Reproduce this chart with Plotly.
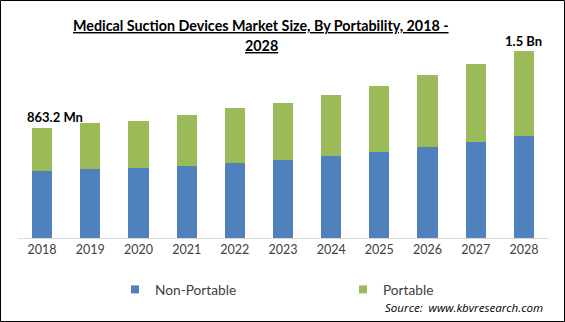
import plotly.graph_objects as go

years = ["2018", "2019", "2020", "2021", "2022", "2023", "2024", "2025", "2026", "2027", "2028"]
non_portable = [526, 541, 549, 565, 589, 612, 644, 675, 714, 754, 801]
portable = [337.2, 361, 369, 400, 432, 451, 479, 518, 565, 612, 667]
label_2018 = "863.2 Mn"
label_2028 = "1.5 Bn"

BLUE = "#4F81BD"
GREEN = "#9BBB59"
FONT = "Lato"

fig = go.Figure()
fig.add_trace(go.Bar(x=years, y=non_portable, name="Non-Portable", marker=dict(color=BLUE, line=dict(width=0)), showlegend=False))
fig.add_trace(go.Bar(x=years, y=portable, name="Portable", marker=dict(color=GREEN, line=dict(width=0)), showlegend=False))
# legend entries
fig.add_trace(go.Scatter(x=[years[0]], y=[None], mode="markers", name="Non-Portable",
                         marker=dict(symbol="square", size=8, color=BLUE), legend="legend"))
fig.add_trace(go.Scatter(x=[years[0]], y=[None], mode="markers", name="Portable",
                         marker=dict(symbol="square", size=8, color=GREEN), legend="legend2"))

L, R, T, B = 18, 17, 40, 84
W, H = 565, 322
pw, ph = W - L - R, H - T - B

def py(p):
    return (238 - p) / ph

def px(p):
    return (p - L) / pw

fig.update_layout(
    width=W, height=H,
    margin=dict(l=L, r=R, t=T, b=B),
    barmode="stack", bargap=0.58,
    plot_bgcolor="white", paper_bgcolor="white",
    font=dict(family=FONT, color="#404040"),
    xaxis=dict(type="category", range=[-0.5, len(years) - 0.5], showline=True, linecolor="#D9D9D9",
               linewidth=1, ticks="", showgrid=False,
               tickfont=dict(family=FONT, size=12.5, color="#404040")),
    yaxis=dict(visible=False, range=[0, 198 * 7.847], showgrid=False),
    legend=dict(orientation="h", x=px(115), xanchor="left", y=py(274), yanchor="top",
                font=dict(family=FONT, size=13.7, color="#404040"), bgcolor="rgba(0,0,0,0)"),
    legend2=dict(orientation="h", x=px(343), xanchor="left", y=py(274), yanchor="top",
                 font=dict(family=FONT, size=13.7, color="#404040"), bgcolor="rgba(0,0,0,0)"),
)

# title (two lines)
fig.add_annotation(xref="paper", yref="paper", x=px(261), y=py(25), xanchor="center", yanchor="middle",
                   text="<b><u>Medical Suction Devices Market Size, By Portability, 2018 -</u></b>", showarrow=False,
                   font=dict(family=FONT, size=14.3, color="#000000"))
fig.add_annotation(xref="paper", yref="paper", x=px(261), y=py(46), xanchor="center", yanchor="middle",
                   text="<b><u>2028</u></b>", showarrow=False,
                   font=dict(family=FONT, size=14.3, color="#000000"))

i_first, i_last = 0, len(years) - 1
total_first = non_portable[i_first] + portable[i_first]
total_last = non_portable[i_last] + portable[i_last]
fig.add_annotation(x=i_first, y=total_first, text="<b>" + label_2018 + "</b>", showarrow=False,
                   xshift=13, yanchor="bottom", yshift=1, font=dict(family=FONT, size=13, color="#000000"))
fig.add_annotation(x=i_last, y=total_last, text="<b>" + label_2028 + "</b>", showarrow=False,
                   yanchor="bottom", yshift=0, font=dict(family=FONT, size=13, color="#000000"))
fig.add_annotation(xref="paper", yref="paper", x=px(545), y=py(307), xanchor="right", yanchor="middle",
                   text="<i>Source:  www.kbvresearch.com</i>", showarrow=False,
                   font=dict(family="Open Sans", size=11.6, color="#000000"))

fig.add_shape(type="rect", xref="paper", yref="paper",
              x0=px(0.5), x1=px(W - 0.5),
              y0=py(H - 0.5), y1=py(0.5),
              line=dict(color="#000000", width=1), fillcolor="rgba(0,0,0,0)", layer="above")

fig.write_html("out.html")
